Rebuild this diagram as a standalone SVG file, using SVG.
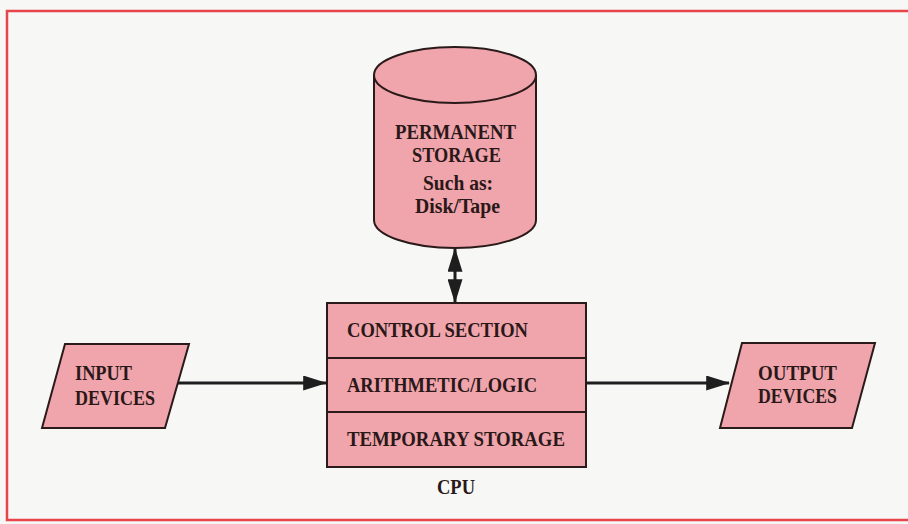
<svg xmlns="http://www.w3.org/2000/svg" width="908" height="524" viewBox="0 0 908 524">
<defs>
<style>
.shape{fill:#f0a4ab;stroke:#2a1a1a;stroke-width:2}
.t{font-family:"Liberation Serif",serif;font-weight:bold;font-size:22px;fill:#2a1818}
.c{text-anchor:middle}
.line{stroke:#1e1e1e;stroke-width:3;fill:none}
</style>
<marker id="ah" viewBox="0 0 10 10" refX="9.5" refY="5" markerWidth="8" markerHeight="5" orient="auto-start-reverse" markerUnits="strokeWidth" preserveAspectRatio="none">
<path d="M0,0 L10,5 L0,10 Z" fill="#1e1e1e"/>
</marker>
</defs>
<rect x="0" y="0" width="908" height="524" fill="#f7f7f6"/>
<rect x="7" y="11" width="910" height="509" fill="none" stroke="#e8454a" stroke-width="2.5"/>
<g id="storage">
<path class="shape" d="M374,75 L374,220 A81,28 0 0 0 536,220 L536,75 A81,28 0 0 0 374,75 Z"/>
<path class="shape" fill="none" d="M374,75 A81,28 0 0 0 536,75"/>
<text class="t" x="395" y="139" textLength="121" lengthAdjust="spacingAndGlyphs">PERMANENT</text>
<text class="t" x="412" y="162" textLength="89" lengthAdjust="spacingAndGlyphs">STORAGE</text>
<text class="t" x="423" y="190" textLength="70" lengthAdjust="spacingAndGlyphs">Such as:</text>
<text class="t" x="415" y="213" textLength="85" lengthAdjust="spacingAndGlyphs">Disk/Tape</text>
</g>
<g id="cpu">
<rect class="shape" x="327" y="303" width="259" height="164"/>
<line class="shape" x1="327" y1="358" x2="586" y2="358"/>
<line class="shape" x1="327" y1="412" x2="586" y2="412"/>
<text class="t" x="347" y="337" textLength="181" lengthAdjust="spacingAndGlyphs">CONTROL SECTION</text>
<text class="t" x="347" y="392" textLength="190" lengthAdjust="spacingAndGlyphs">ARITHMETIC/LOGIC</text>
<text class="t" x="347" y="446" textLength="218" lengthAdjust="spacingAndGlyphs">TEMPORARY STORAGE</text>
<text class="t" x="437" y="494" textLength="38" lengthAdjust="spacingAndGlyphs">CPU</text>
</g>
<g id="input">
<path class="shape" d="M65,344 L189,344 L165,428 L42,428 Z"/>
<text class="t" x="75" y="380" textLength="57" lengthAdjust="spacingAndGlyphs">INPUT</text>
<text class="t" x="75" y="405" textLength="80" lengthAdjust="spacingAndGlyphs">DEVICES</text>
</g>
<g id="output">
<path class="shape" d="M742,343 L875,343 L852,428 L720,428 Z"/>
<text class="t" x="758" y="380" textLength="79" lengthAdjust="spacingAndGlyphs">OUTPUT</text>
<text class="t" x="758" y="403" textLength="79" lengthAdjust="spacingAndGlyphs">DEVICES</text>
</g>
<g id="connectors">
<line class="line" x1="455" y1="249" x2="455" y2="302" marker-start="url(#ah)" marker-end="url(#ah)"/>
<line class="line" x1="178" y1="383" x2="326" y2="383" marker-end="url(#ah)"/>
<line class="line" x1="586" y1="383" x2="729" y2="383" marker-end="url(#ah)"/>
</g>
</svg>
